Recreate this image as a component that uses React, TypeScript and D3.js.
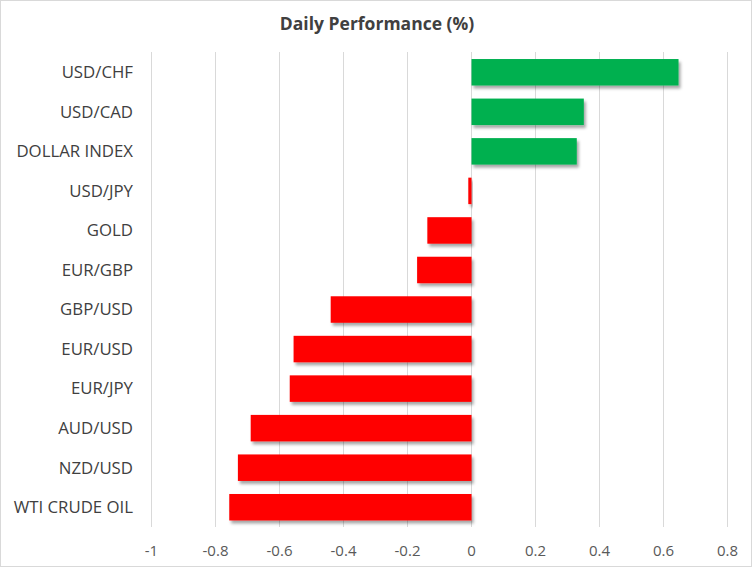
import * as d3 from 'd3'
import { useEffect } from 'react'

const categories = [
  'USD/CHF',
  'USD/CAD',
  'DOLLAR INDEX',
  'USD/JPY',
  'GOLD',
  'EUR/GBP',
  'GBP/USD',
  'EUR/USD',
  'EUR/JPY',
  'AUD/USD',
  'NZD/USD',
  'WTI CRUDE OIL',
]
const values = [0.647, 0.351, 0.329, -0.01, -0.138, -0.17, -0.44, -0.556, -0.568, -0.69, -0.73, -0.757]
const xTicks = [-1, -0.8, -0.6, -0.4, -0.2, 0, 0.2, 0.4, 0.6, 0.8]

const W = 753
const H = 568
const font = "'Open Sans', 'Noto Sans', sans-serif"

export default function App(): JSX.Element {
  useEffect(() => {
    document.body.style.margin = '0'
  }, [])

  const x = d3.scaleLinear().domain([-1, 0.8]).range([151.5, 727.5])
  const y = d3.scaleBand<string>().domain(categories).range([52.5, 527]).paddingInner(0.33).paddingOuter(0.165)

  return (
    <svg width={W} height={H} style={{ display: 'block', background: '#fff' }}>
      <defs>
        <filter id="shadow" x="-10%" y="-30%" width="130%" height="180%">
          <feDropShadow dx="2" dy="3" stdDeviation="1.8" floodColor="#000" floodOpacity="0.35" />
        </filter>
      </defs>
      <rect x={0.5} y={0.5} width={W - 2} height={H - 2} fill="#fff" stroke="#d9d9d9" />
      <text x={377} y={30} textAnchor="middle" fontFamily={font} fontSize={17.5} fontWeight={700} fill="#404040">
        Daily Performance (%)
      </text>
      {xTicks.map((t) => (
        <g key={t}>
          <line x1={x(t)} x2={x(t)} y1={52} y2={527} stroke="#d9d9d9" strokeWidth={1} />
          <text x={x(t)} y={555.5} textAnchor="middle" fontFamily={font} fontSize={15} fill="#595959">
            {t}
          </text>
        </g>
      ))}
      {categories.map((c, i) => {
        const v = values[i]
        const x0 = x(Math.min(0, v))
        const x1 = x(Math.max(0, v))
        return (
          <rect
            key={c}
            x={x0}
            y={y(c)}
            width={Math.max(1, x1 - x0)}
            height={y.bandwidth()}
            fill={v >= 0 ? '#00B050' : '#FF0000'}
            filter="url(#shadow)"
          />
        )
      })}
      {categories.map((c) => (
        <text
          key={c}
          x={133}
          y={(y(c) ?? 0) + y.bandwidth() / 2}
          dy="0.35em"
          textAnchor="end"
          fontFamily={font}
          fontSize={16.8}
          fill="#404040"
        >
          {c}
        </text>
      ))}
    </svg>
  )
}
